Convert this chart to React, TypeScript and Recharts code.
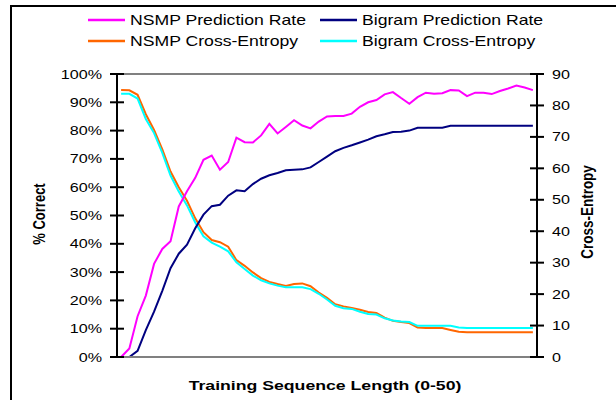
import React from 'react';
import { LineChart, Line, XAxis, YAxis, ReferenceLine } from 'recharts';

// Training sequence length (categories)
const lengths = [0,1,2,3,4,5,6,7,8,9,10,11,12,13,14,15,16,17,18,19,20,21,22,23,24,25,26,27,28,29,30,31,32,33,34,35,36,37,38,39,40,41,42,43,44,45,46,47,48,49,50];

// % correct series (left axis)
const nsmpRate = [0,3,14.4,21.7,32.9,38.2,40.9,53.2,58.6,63.3,69.7,71.2,66.2,68.9,77.5,75.9,75.8,78.3,82.4,79,81.3,83.7,81.8,80.8,83.2,85,85.2,85.2,86,88.4,90,90.8,92.8,93.6,91.5,89.5,91.8,93.4,93,93.2,94.3,94.2,92.2,93.4,93.4,92.9,94,94.9,95.9,95.2,94.3];
const bigramRate = [0,0,2.2,9.5,16,23.4,31.4,36.5,39.7,45.5,50.3,53.3,53.8,57,58.9,58.6,61.1,63,64.2,65,66,66.2,66.3,67,68.9,70.8,72.7,73.9,74.8,75.8,76.8,78,78.7,79.5,79.6,80,81,81,81,81,81.7,81.7,81.7,81.7,81.7,81.7,81.7,81.7,81.7,81.7,81.7];

// Cross-entropy series (right axis)
const nsmpCE = [84.9,84.8,83.4,77.2,72.2,66,59,54,49.7,44.1,39.7,37.2,36.5,35.1,30.8,29,26.9,25.1,23.9,23.2,22.6,23.2,23.4,22.5,20.5,18.8,16.8,16.1,15.6,15,14.3,14,12.5,11.5,11.1,10.8,9.4,9.2,9.2,9.2,8.6,8,7.9,7.9,7.9,7.9,7.9,7.9,7.9,7.9,7.9];
const bigramCE = [83.7,83.7,82.2,75.7,71.2,64.9,57.7,52.6,48.2,42.8,38.4,36.4,35.1,33.6,30.1,28,25.9,24.4,23.4,22.7,22.2,22.2,22.2,21.6,20.1,18.3,16.3,15.5,15.3,14.4,13.7,13.5,12.3,11.6,11.3,11.1,9.9,9.9,9.9,9.9,9.9,9.4,9.2,9.2,9.2,9.2,9.2,9.2,9.2,9.2,9.2];

const leftTicks = [0,10,20,30,40,50,60,70,80,90,100];
const rightTicks = [0,10,20,30,40,50,60,70,80,90];

const seriesNames = ['NSMP Prediction Rate', 'Bigram Prediction Rate', 'NSMP Cross-Entropy', 'Bigram Cross-Entropy'];
const seriesKeys = ['nsmpRate', 'bigramRate', 'nsmpCE', 'bigramCE'];
const seriesColors = ['#FF00FF', '#000080', '#FF6600', '#00FFFF'];

const data = lengths.map((len, i) => ({
  len,
  nsmpRate: nsmpRate[i],
  bigramRate: bigramRate[i],
  nsmpCE: nsmpCE[i],
  bigramCE: bigramCE[i],
}));

const FONT = '"Liberation Sans", Arial, Helvetica, sans-serif';
const SX = 1.29;
const TS = 7;
const TM = 8;

function LeftTick(props: any) {
  const { x, y, payload } = props;
  const ax = x + TS + TM;
  return (
    <g>
      <line x1={ax - 7} x2={ax + 7} y1={y} y2={y} stroke="#000" strokeWidth={2} />
      <text transform={`translate(${x},${y}) scale(${SX},1)`} textAnchor="end" dy="0.36em" fontSize={12.5} fontFamily={FONT} fill="#000">
        {payload.value}%
      </text>
    </g>
  );
}

function RightTick(props: any) {
  const { x, y, payload } = props;
  const ax = x - TS - TM;
  return (
    <g>
      <line x1={ax - 7} x2={ax + 7} y1={y} y2={y} stroke="#000" strokeWidth={2} />
      <text transform={`translate(${x},${y}) scale(${SX},1)`} textAnchor="start" dy="0.36em" fontSize={12.5} fontFamily={FONT} fill="#000">
        {payload.value}
      </text>
    </g>
  );
}

const legendPos = [
  { lx: 88, tx: 130, y: 20 },
  { lx: 320, tx: 362, y: 20 },
  { lx: 88, tx: 130, y: 41 },
  { lx: 320, tx: 362, y: 41 },
];

export default function App() {
  return (
    <div style={{ position: 'fixed', left: 0, top: 0, width: 616, height: 400, overflow: 'hidden', background: '#fff' }}>
      <div style={{ position: 'absolute', left: 10, top: 5, width: 800, height: 600, border: '2px solid #000', boxSizing: 'border-box' }} />
      <div style={{ position: 'absolute', left: 0, top: 0 }}>
        <LineChart width={616} height={400} data={data} margin={{ top: 74, right: 19, bottom: 43, left: 57 }}>
          <XAxis dataKey="len" type="number" domain={[-0.5, 50.5]} hide />
          <YAxis
            yAxisId="left"
            orientation="left"
            width={60}
            domain={[0, 100]}
            ticks={leftTicks}
            interval={0}
            axisLine={{ stroke: '#000', strokeWidth: 2 }}
            tickLine={false}
            tickSize={TS}
            tickMargin={TM}
            tick={<LeftTick />}
          />
          <YAxis
            yAxisId="right"
            orientation="right"
            width={60}
            domain={[0, 90]}
            ticks={rightTicks}
            interval={0}
            axisLine={{ stroke: '#000', strokeWidth: 2 }}
            tickLine={false}
            tickSize={TS}
            tickMargin={TM}
            tick={<RightTick />}
          />
          <Line yAxisId="right" dataKey="nsmpCE" name={seriesNames[2]} stroke={seriesColors[2]} strokeWidth={2} dot={false} type="linear" isAnimationActive={false} />
          <Line yAxisId="right" dataKey="bigramCE" name={seriesNames[3]} stroke={seriesColors[3]} strokeWidth={2} dot={false} type="linear" isAnimationActive={false} />
          <Line yAxisId="left" dataKey="bigramRate" name={seriesNames[1]} stroke={seriesColors[1]} strokeWidth={2} dot={false} type="linear" isAnimationActive={false} />
          <Line yAxisId="left" dataKey="nsmpRate" name={seriesNames[0]} stroke={seriesColors[0]} strokeWidth={2} dot={false} type="linear" isAnimationActive={false} />
          <ReferenceLine yAxisId="left" y={100} stroke="#808080" strokeWidth={2} />
          <ReferenceLine yAxisId="left" y={0} stroke="#808080" strokeWidth={2} />
        </LineChart>
      </div>
      <svg width={616} height={400} style={{ position: 'absolute', left: 0, top: 0, pointerEvents: 'none' }}>
        {seriesKeys.map((k, i) => (
          <g key={k}>
            <line x1={legendPos[i].lx} x2={legendPos[i].lx + 37} y1={legendPos[i].y} y2={legendPos[i].y} stroke={seriesColors[i]} strokeWidth={2.5} />
            <text transform={`translate(${legendPos[i].tx},${legendPos[i].y + 5}) scale(1.26,1)`} fontSize={14} fontFamily={FONT} fill="#000">
              {seriesNames[i]}
            </text>
          </g>
        ))}
        <text transform={`translate(39,214) scale(${SX},1) rotate(-90)`} textAnchor="middle" dy="0.36em" fontSize={13} fontWeight="bold" fontFamily={FONT} fill="#000">
          % Correct
        </text>
        <text transform={`translate(587,212) scale(${SX},1) rotate(-90)`} textAnchor="middle" dy="0.36em" fontSize={13.5} fontWeight="bold" fontFamily={FONT} fill="#000">
          Cross-Entropy
        </text>
        <text transform={`translate(325,390) scale(${SX},1)`} textAnchor="middle" fontSize={13.7} fontWeight="bold" fontFamily={FONT} fill="#000">
          Training Sequence Length (0-50)
        </text>
      </svg>
    </div>
  );
}
